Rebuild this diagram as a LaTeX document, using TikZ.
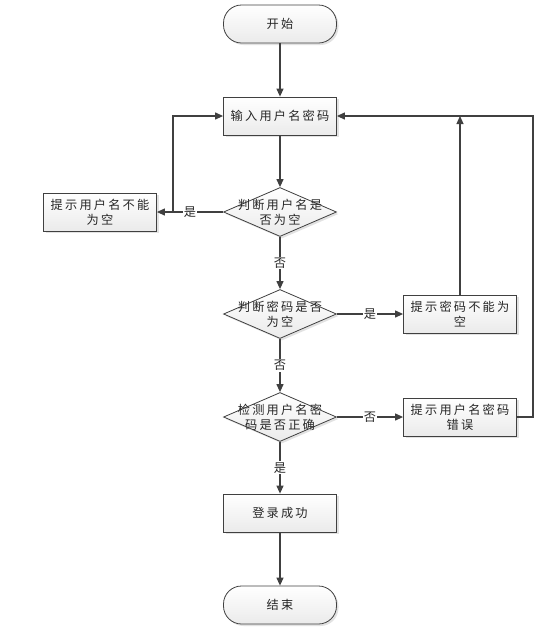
\documentclass[tikz,border=0pt]{standalone}
\usepackage{fontspec}
\newfontfamily\cjk{Noto Sans CJK SC}[LetterSpace=18]
\usetikzlibrary{shapes.geometric,shadows,arrows.meta}

\begin{document}
\begin{tikzpicture}[x=1pt,y=-1pt,
    font=\cjk\fontsize{12.2}{15}\selectfont,
    shade/.style={top color=white,bottom color=gray!16,draw=black!75,line width=0.8pt,
      drop shadow={shadow xshift=2pt,shadow yshift=-2pt,fill=gray!45}},
    procbox/.style={shade,minimum width=113pt,minimum height=38pt,inner sep=2pt,align=center,text=black!85},
    termbox/.style={procbox,rounded corners=18pt},
    decision/.style={shade,diamond,minimum width=113pt,minimum height=49pt,inner sep=0pt},
    flow/.style={draw=black!75,line width=1.2pt,-{Triangle[length=8pt,width=7pt]}},
    elabel/.style={fill=white,inner sep=1pt,text=black!85}]
  \useasboundingbox (0,0) rectangle (554,638);
  % main column
  \node[termbox] (start) at (280,24) {开始};
  \node[procbox] (input) at (280,116) {输入用户名密码};
  \node[decision,label={[align=center,text=black!85]center:判断用户名是\\否为空}] (d1) at (280,212) {};
  \node[decision,label={[align=center,text=black!85]center:判断密码是否\\为空}] (d2) at (280,314) {};
  \node[decision,label={[align=center,text=black!85]center:检测用户名密\\码是否正确}] (d3) at (280,417) {};
  \node[procbox] (ok) at (280,513) {登录成功};
  \node[termbox] (end) at (280,605) {结束};
  % hints
  \node[procbox] (e1) at (100,212) {提示用户名不能\\为空};
  \node[procbox] (e2) at (460,314) {提示密码不能为\\空};
  \node[procbox] (e3) at (460,417) {提示用户名密码\\错误};
  \coordinate (lj) at (173,212);
  \coordinate (rj) at (533,116);

  \draw[flow] (start) -- (input);
  \draw[flow] (input) -- (d1);
  \draw[flow] (d1) -- node[elabel] {是} (e1);
  \draw[flow] (lj) |- (input);
  \draw[flow] (d1) -- node[elabel] {否} (d2);
  \draw[flow] (d2) -- node[elabel] {是} (e2);
  \draw[flow] (e2) -- (e2 |- input);
  \draw[flow] (d2) -- node[elabel] {否} (d3);
  \draw[flow] (d3) -- node[elabel] {否} (e3);
  \draw[flow] (e3) -| (rj) -- (input);
  \draw[flow] (d3) -- node[elabel] {是} (ok);
  \draw[flow] (ok) -- (end);
\end{tikzpicture}
\end{document}
